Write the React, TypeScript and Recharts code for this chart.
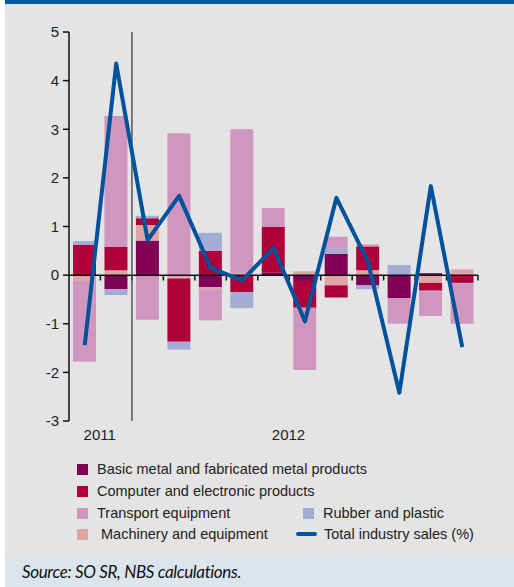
import {
  ComposedChart,
  Bar,
  Line,
  XAxis,
  YAxis,
  ReferenceLine,
} from "recharts";

// 13 periods, mid-2011 to mid-2012
const periods = [
  "p01", "p02", "p03", "p04", "p05", "p06", "p07",
  "p08", "p09", "p10", "p11", "p12", "p13",
];
const yearLabels: Record<string, string> = { p01: "2011", p07: "2012" };

const basicMetal = [0, -0.29, 0.71, 0, -0.25, 0, 0.05, -0.12, 0.44, -0.21, -0.47, 0.04, 0];
const machinery = [-0.12, 0.1, 0.32, -0.07, -0.04, 0.04, 0, 0.08, -0.21, 0.1, 0, -0.16, 0.12];
const computer = [0.62, 0.48, 0.14, -1.3, 0.5, -0.35, 0.94, -0.55, -0.25, 0.49, 0, -0.16, -0.16];
const rubber = [0.08, -0.12, 0.05, -0.16, 0.37, -0.33, 0, 0, 0.1, -0.08, 0.21, -0.01, -0.02];
const transport = [-1.66, 2.69, -0.92, 2.92, -0.64, 2.96, 0.39, -1.28, 0.25, 0.04, -0.53, -0.51, -0.82];
const totalSales = [-1.44, 4.35, 0.72, 1.63, 0.15, -0.11, 0.56, -0.95, 1.59, 0.28, -2.42, 1.83, -1.48];

const yTicks = [-3, -2, -1, 0, 1, 2, 3, 4, 5];
const boundaryTicks = [1, 2, 3, 4, 5, 6, 7, 8, 9, 10, 11, 12, 13];

const C = {
  basic: "#800055",
  computer: "#b0003a",
  transport: "#cf96c0",
  rubber: "#a2acd4",
  machinery: "#e0a4a4",
  line: "#00529b",
};

const rows = periods.map((p, i) => ({
  period: p,
  idx: i,
  basicMetal: basicMetal[i],
  machinery: machinery[i],
  computer: computer[i],
  rubber: rubber[i],
  transport: transport[i],
  total: totalSales[i],
}));

const font = "'Liberation Sans', Arial, sans-serif";

const YearTick = (props: any) => {
  const { x, y, payload } = props;
  const label = yearLabels[payload.value];
  if (!label) return null;
  return (
    <text x={x + 15} y={y + 17} textAnchor="middle" fontSize={15} fill="#222" fontFamily={font}>
      {label}
    </text>
  );
};

const legendRows = [
  { label: "Basic metal and fabricated metal products", color: C.basic, x: 77, y: 469 },
  { label: "Computer and electronic products", color: C.computer, x: 77, y: 491 },
  { label: "Transport equipment", color: C.transport, x: 77, y: 513 },
  { label: " Machinery and equipment", color: C.machinery, x: 77, y: 534 },
  { label: "Rubber and plastic", color: C.rubber, x: 303, y: 513 },
];

export default function App() {
  return (
    <div
      style={{
        position: "absolute",
        left: 0,
        top: 0,
        width: 514,
        height: 587,
        background: "#e4e4e4",
        fontFamily: font,
        overflow: "hidden",
      }}
    >
      <div style={{ position: "absolute", left: 0, top: 0, width: 5, height: 587, background: "#fff" }} />
      <div style={{ position: "absolute", left: 5, top: 0, width: 509, height: 4, background: "#005a9f" }} />

      <div style={{ position: "absolute", left: 0, top: 0 }}>
        <ComposedChart
          width={514}
          height={450}
          data={rows}
          stackOffset="sign"
          margin={{ top: 32, right: 36, bottom: 0, left: 0 }}
        >
          <XAxis
            dataKey="period"
            axisLine={false}
            tickLine={false}
            tickSize={0}
            height={29}
            interval={0}
            tick={<YearTick />}
          />
          <XAxis
            xAxisId="num"
            dataKey="idx"
            type="number"
            domain={[0, 13]}
            allowDataOverflow
            hide
          />
          <YAxis
            domain={[-3, 5]}
            ticks={yTicks}
            width={69}
            axisLine={{ stroke: "#111", strokeWidth: 1.5 }}
            tickLine={{ stroke: "#111", strokeWidth: 1.5 }}
            tickSize={6}
            tickMargin={4}
            tick={{ fontSize: 15, fill: "#222", fontFamily: font }}
          />
          <Bar dataKey="basicMetal" stackId="s" fill={C.basic} barSize={23} isAnimationActive={false} />
          <Bar dataKey="machinery" stackId="s" fill={C.machinery} barSize={23} isAnimationActive={false} />
          <Bar dataKey="computer" stackId="s" fill={C.computer} barSize={23} isAnimationActive={false} />
          <Bar dataKey="rubber" stackId="s" fill={C.rubber} barSize={23} isAnimationActive={false} />
          <Bar dataKey="transport" stackId="s" fill={C.transport} barSize={23} isAnimationActive={false} />
          <ReferenceLine y={0} stroke="#111" strokeWidth={1.5} />
          {boundaryTicks.map((t) => (
            <ReferenceLine
              key={t}
              xAxisId="num"
              segment={[
                { x: t, y: 0 },
                { x: t, y: -0.11 },
              ]}
              stroke="#111"
              strokeWidth={1.5}
            />
          ))}
          <ReferenceLine xAxisId="num" x={2} stroke="#555" strokeWidth={1.5} />
          <Line
            dataKey="total"
            stroke={C.line}
            strokeWidth={4}
            dot={false}
            strokeLinejoin="round"
            isAnimationActive={false}
          />
        </ComposedChart>
      </div>

      {legendRows.map((r) => (
        <div key={r.label} style={{ position: "absolute", left: r.x, top: r.y - 11, height: 22, display: "flex", alignItems: "center" }}>
          <div style={{ width: 11, height: 11, background: r.color, marginRight: 9 }} />
          <span style={{ fontSize: 14.5, color: "#222", whiteSpace: "pre" }}>{r.label}</span>
        </div>
      ))}
      <div style={{ position: "absolute", left: 296, top: 523, height: 22, display: "flex", alignItems: "center" }}>
        <div style={{ width: 21, height: 4, background: C.line, borderRadius: 2, marginRight: 7 }} />
        <span style={{ fontSize: 14.5, color: "#222" }}>Total industry sales (%)</span>
      </div>

      <div
        style={{
          position: "absolute",
          left: 5,
          top: 556,
          width: 509,
          height: 31,
          background: "#dce5ee",
        }}
      >
        <span
          style={{
            position: "absolute",
            left: 17,
            top: 5,
            fontSize: 17,
            letterSpacing: -0.35,
            fontStyle: "italic",
            color: "#111",
            fontFamily: "Lato, 'Open Sans', sans-serif",
          }}
        >
          Source: SO SR, NBS calculations.
        </span>
      </div>
    </div>
  );
}
